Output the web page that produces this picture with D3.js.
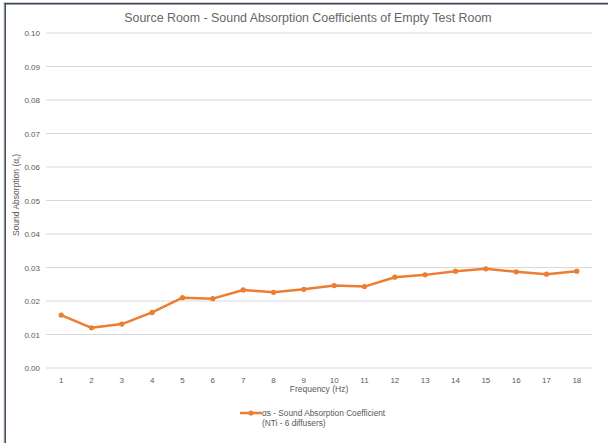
<!DOCTYPE html>
<html>
<head>
<meta charset="utf-8">
<script src="https://cdn.jsdelivr.net/npm/d3@7"></script>
<style>
  body { margin: 0; background: #fff; }
  text { font-family: "Liberation Sans", Arial, sans-serif; fill: #595959; }
</style>
</head>
<body>
<div id="chart"></div>
<script>
const frequencies = ['1','2','3','4','5','6','7','8','9','10','11','12','13','14','15','16','17','18'];
const absorption = [0.0158, 0.0120, 0.0131, 0.0166, 0.0210, 0.0207, 0.0233, 0.0226, 0.0235,
                    0.0246, 0.0243, 0.0271, 0.0278, 0.0289, 0.0296, 0.0287, 0.0280, 0.0289];
const yTicks = [0, 0.01, 0.02, 0.03, 0.04, 0.05, 0.06, 0.07, 0.08, 0.09, 0.10];

const width = 608, height = 443;
const plotLeft = 46, plotRight = 592, plotTop = 33, plotBottom = 368;

const svg = d3.select("#chart").append("svg")
  .attr("width", width)
  .attr("height", height);

// frame edges
svg.append("line").attr("x1", 4).attr("x2", 4).attr("y1", 3).attr("y2", height)
  .attr("stroke", "#cfd3d8").attr("stroke-width", 1);
svg.append("line").attr("x1", 3).attr("x2", width).attr("y1", 2.5).attr("y2", 2.5)
  .attr("stroke", "#cfd3d8").attr("stroke-width", 1);
svg.append("line").attr("x1", 5.2).attr("x2", 5.2).attr("y1", 3).attr("y2", height)
  .attr("stroke", "#3b4552").attr("stroke-width", 1.5);
svg.append("line").attr("x1", 4.5).attr("x2", width).attr("y1", 3.8).attr("y2", 3.8)
  .attr("stroke", "#3b4552").attr("stroke-width", 1.5);

const x = d3.scaleBand().domain(frequencies).range([plotLeft, plotRight]).padding(0);
const y = d3.scaleLinear().domain([0, 0.10]).range([plotBottom, plotTop]);

// grid
svg.append("g")
  .selectAll("line")
  .data(yTicks)
  .join("line")
  .attr("x1", plotLeft).attr("x2", plotRight)
  .attr("y1", d => y(d)).attr("y2", d => y(d))
  .attr("stroke", "#d9d9d9").attr("stroke-width", 1);

const yAxis = svg.append("g")
  .attr("transform", `translate(${plotLeft},0)`)
  .call(d3.axisLeft(y).tickValues(yTicks).tickFormat(d3.format(".2f")).tickSize(0).tickPadding(6));
yAxis.select(".domain").remove();
yAxis.selectAll("text").attr("font-size", 8).attr("fill", "#595959");

const xAxis = svg.append("g")
  .attr("transform", `translate(0,${plotBottom})`)
  .call(d3.axisBottom(x).tickSize(0).tickPadding(9));
xAxis.select(".domain").remove();
xAxis.selectAll("text").attr("font-size", 8).attr("fill", "#595959");

// title
svg.append("text")
  .attr("x", 308).attr("y", 22)
  .attr("text-anchor", "middle")
  .attr("font-size", 12.4)
  .attr("fill", "#666")
  .style("fill", "#666")
  .text("Source Room - Sound Absorption Coefficients of Empty Test Room");

// axis titles
svg.append("text")
  .attr("x", (plotLeft + plotRight) / 2).attr("y", 392)
  .attr("text-anchor", "middle")
  .attr("font-size", 8.5)
  .text("Frequency (Hz)");

const yt = svg.append("text")
  .attr("transform", "translate(19,195) rotate(-90)")
  .attr("text-anchor", "middle")
  .attr("font-size", 8.5);
yt.append("tspan").text("Sound Absorption (α");
yt.append("tspan").attr("font-size", 6).attr("dy", 2).text("r");
yt.append("tspan").attr("dy", -2).text(")");

// series
const orange = "#ED7D31";
const line = d3.line()
  .x((d, i) => x(frequencies[i]) + x.bandwidth() / 2)
  .y(d => y(d));

svg.append("path")
  .datum(absorption)
  .attr("fill", "none")
  .attr("stroke", orange)
  .attr("stroke-width", 2.5)
  .attr("stroke-linejoin", "round")
  .attr("d", line);

svg.append("g")
  .selectAll("circle")
  .data(absorption)
  .join("circle")
  .attr("cx", (d, i) => x(frequencies[i]) + x.bandwidth() / 2)
  .attr("cy", d => y(d))
  .attr("r", 2.6)
  .attr("fill", orange);

// legend
const lg = svg.append("g").attr("transform", "translate(240,413)");
lg.append("line").attr("x1", 0).attr("x2", 22).attr("y1", 0).attr("y2", 0)
  .attr("stroke", orange).attr("stroke-width", 2.5);
lg.append("circle").attr("cx", 11).attr("cy", 0).attr("r", 2.6).attr("fill", orange);
lg.append("text").attr("x", 22).attr("y", 3).attr("font-size", 8.3)
  .text("αs - Sound Absorption Coefficient");
lg.append("text").attr("x", 22).attr("y", 13).attr("font-size", 8.3)
  .text("(NTi - 6 diffusers)");
</script>
</body>
</html>
